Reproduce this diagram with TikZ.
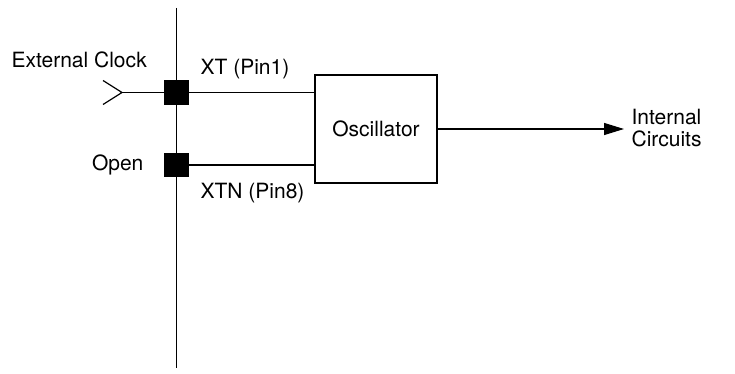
\documentclass[tikz,border=0pt]{standalone}
\usepackage{fontspec}
\setmainfont{TeX Gyre Heros}
\usetikzlibrary{positioning}
\usetikzlibrary{arrows.meta}

\begin{document}
\begin{tikzpicture}[x=1pt, y=-1pt, line width=1.2pt,
    pin/.style={draw, fill=black, minimum size=23pt, inner sep=0pt},
    lbl/.style={inner sep=0pt, font=\fontsize{21}{22.5}\selectfont}]
    \useasboundingbox (0,0) rectangle (735,374);
    \draw[black, line width=1.5pt] (176.5,8)--(176.5,368);
    \node[pin] (xt) at (176.5,92.5) {};
    \node[pin] (xtn) at (176.5,165) {};
    \node[draw, lbl, minimum width=122pt, minimum height=108pt] (osc) at (376,129) {Oscillator};
    % clock input
    \coordinate (clk) at (122,92.5);
    \draw (clk) -- (xt);
    \draw ([shift={(-19,-12)}]clk) -- (clk) -- ([shift={(-19,12)}]clk);
    \draw (xt.east) -- (xt.east -| osc.west);
    \draw (xtn.east) -- (xtn.east -| osc.west);
    % output
    \coordinate (out) at (624,129);
    \draw[-{Triangle[length=20pt,width=12pt]}] (osc.east) -- (out);
    \node[lbl, anchor=base west] (extlbl) at (11,68) {External Clock};
    \node[lbl, anchor=base west] (xtlbl) at (200,75) {XT (Pin1)};
    \node[lbl, anchor=base east] (openlbl) at (144,171) {Open};
    \node[lbl, anchor=base west] (xtnlbl) at (200,198) {XTN (Pin8)};
    \node[lbl, anchor=west, align=left] (intlbl) at (631,128) {Internal\\Circuits};
\end{tikzpicture}
\end{document}
